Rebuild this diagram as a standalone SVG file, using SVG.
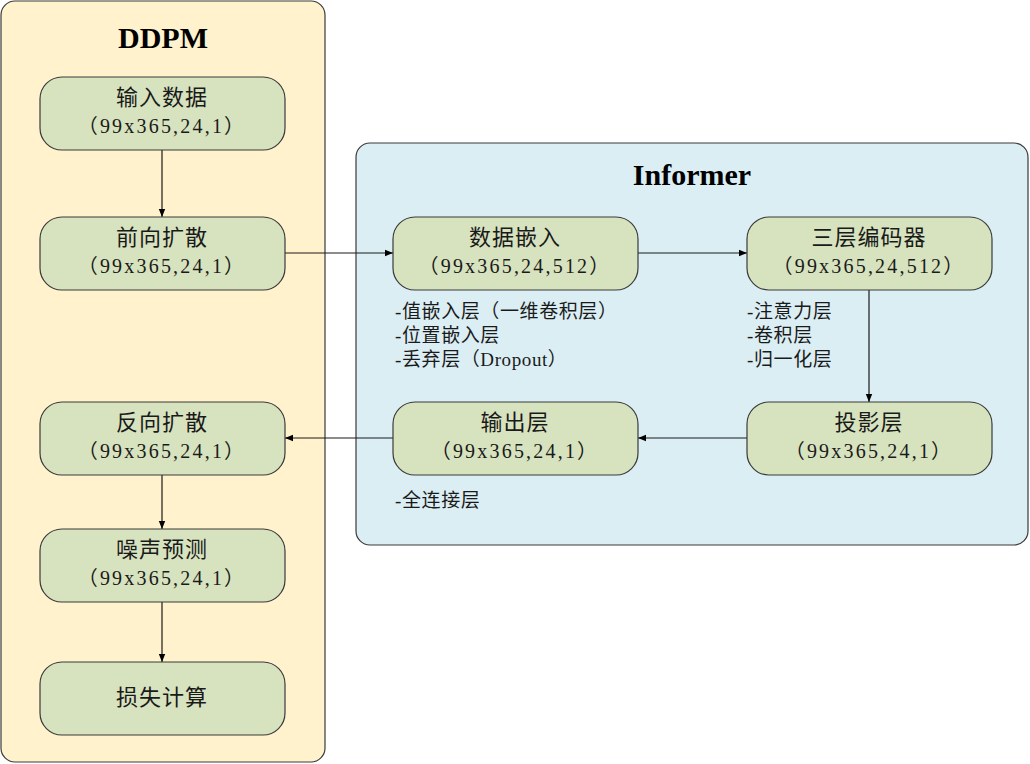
<svg xmlns="http://www.w3.org/2000/svg" width="1030" height="764" viewBox="0 0 1030 764">
<style>
.cont{stroke:#3a3a3a;stroke-width:1.2}
.node rect{fill:#d7e3bf;stroke:#3a3a3a;stroke-width:1.2}
.t{font-family:"Liberation Serif","Noto Sans CJK SC",serif;fill:#1a1a1a;text-anchor:middle}
.l1{font-size:22px;letter-spacing:1px}
.l2{font-size:20px;letter-spacing:2.2px}
.ann{font-family:"Liberation Serif","Noto Sans CJK SC",serif;font-size:19px;letter-spacing:0.6px;fill:#1a1a1a}
.title{font-family:"Liberation Serif",serif;font-weight:bold;font-size:30px;fill:#000;text-anchor:middle}
.edge{stroke:#1a1a1a;stroke-width:1.2;fill:none;marker-end:url(#ah)}
</style>
<defs>
<marker id="ah" viewBox="0 0 10 10" refX="10" refY="5" markerWidth="8" markerHeight="8" markerUnits="userSpaceOnUse" orient="auto">
<path d="M0,1 L10,5 L0,9 Z" fill="#000"/>
</marker>
</defs>
<g id="ddpm-container">
<rect class="cont" x="1" y="1" width="324" height="761" rx="14" fill="#fff2cc"/>
<text class="title" x="163" y="48">DDPM</text>
</g>
<g id="informer-container">
<rect class="cont" x="356" y="143" width="672" height="402" rx="14" fill="#dbeef4"/>
<text class="title" x="692" y="185">Informer</text>
</g>
<g id="connectors">
<line class="edge" x1="162" y1="150" x2="162" y2="217"/>
<line class="edge" x1="285" y1="253" x2="393" y2="253"/>
<line class="edge" x1="638" y1="253" x2="747" y2="253"/>
<line class="edge" x1="869" y1="290" x2="869" y2="402"/>
<line class="edge" x1="747" y1="438" x2="638" y2="438"/>
<line class="edge" x1="393" y1="438" x2="285" y2="438"/>
<line class="edge" x1="162" y1="475" x2="162" y2="529"/>
<line class="edge" x1="162" y1="602" x2="162" y2="662"/>
</g>
<g id="n-input" class="node">
<rect x="40" y="77" width="245" height="73" rx="22"/>
<text class="t l1" x="162" y="105">输入数据</text>
<text class="t l2" x="162" y="133">（99x365,24,1）</text>
</g>
<g id="n-forward" class="node">
<rect x="40" y="217" width="245" height="73" rx="22"/>
<text class="t l1" x="162" y="245">前向扩散</text>
<text class="t l2" x="162" y="273">（99x365,24,1）</text>
</g>
<g id="n-reverse" class="node">
<rect x="40" y="402" width="245" height="73" rx="22"/>
<text class="t l1" x="162" y="430">反向扩散</text>
<text class="t l2" x="162" y="458">（99x365,24,1）</text>
</g>
<g id="n-noise" class="node">
<rect x="40" y="529" width="245" height="73" rx="22"/>
<text class="t l1" x="162" y="557">噪声预测</text>
<text class="t l2" x="162" y="585">（99x365,24,1）</text>
</g>
<g id="n-loss" class="node">
<rect x="40" y="662" width="245" height="73" rx="22"/>
<text class="t l1" x="162" y="705">损失计算</text>
</g>
<g id="n-embed" class="node">
<rect x="393" y="217" width="245" height="73" rx="22"/>
<text class="t l1" x="515" y="245">数据嵌入</text>
<text class="t l2" x="515" y="273">（99x365,24,512）</text>
</g>
<g id="n-encoder" class="node">
<rect x="747" y="217" width="245" height="73" rx="22"/>
<text class="t l1" x="869" y="245">三层编码器</text>
<text class="t l2" x="869" y="273">（99x365,24,512）</text>
</g>
<g id="n-output" class="node">
<rect x="393" y="402" width="245" height="73" rx="22"/>
<text class="t l1" x="515" y="430">输出层</text>
<text class="t l2" x="515" y="458">（99x365,24,1）</text>
</g>
<g id="n-proj" class="node">
<rect x="747" y="402" width="245" height="73" rx="22"/>
<text class="t l1" x="869" y="430">投影层</text>
<text class="t l2" x="869" y="458">（99x365,24,1）</text>
</g>
<g id="annotations">
<text class="ann" x="395" y="318">-值嵌入层（一维卷积层）</text>
<text class="ann" x="395" y="342">-位置嵌入层</text>
<text class="ann" x="395" y="366">-丢弃层（Dropout）</text>
<text class="ann" x="747" y="318">-注意力层</text>
<text class="ann" x="747" y="342">-卷积层</text>
<text class="ann" x="747" y="366">-归一化层</text>
<text class="ann" x="395" y="507">-全连接层</text>
</g>
</svg>
